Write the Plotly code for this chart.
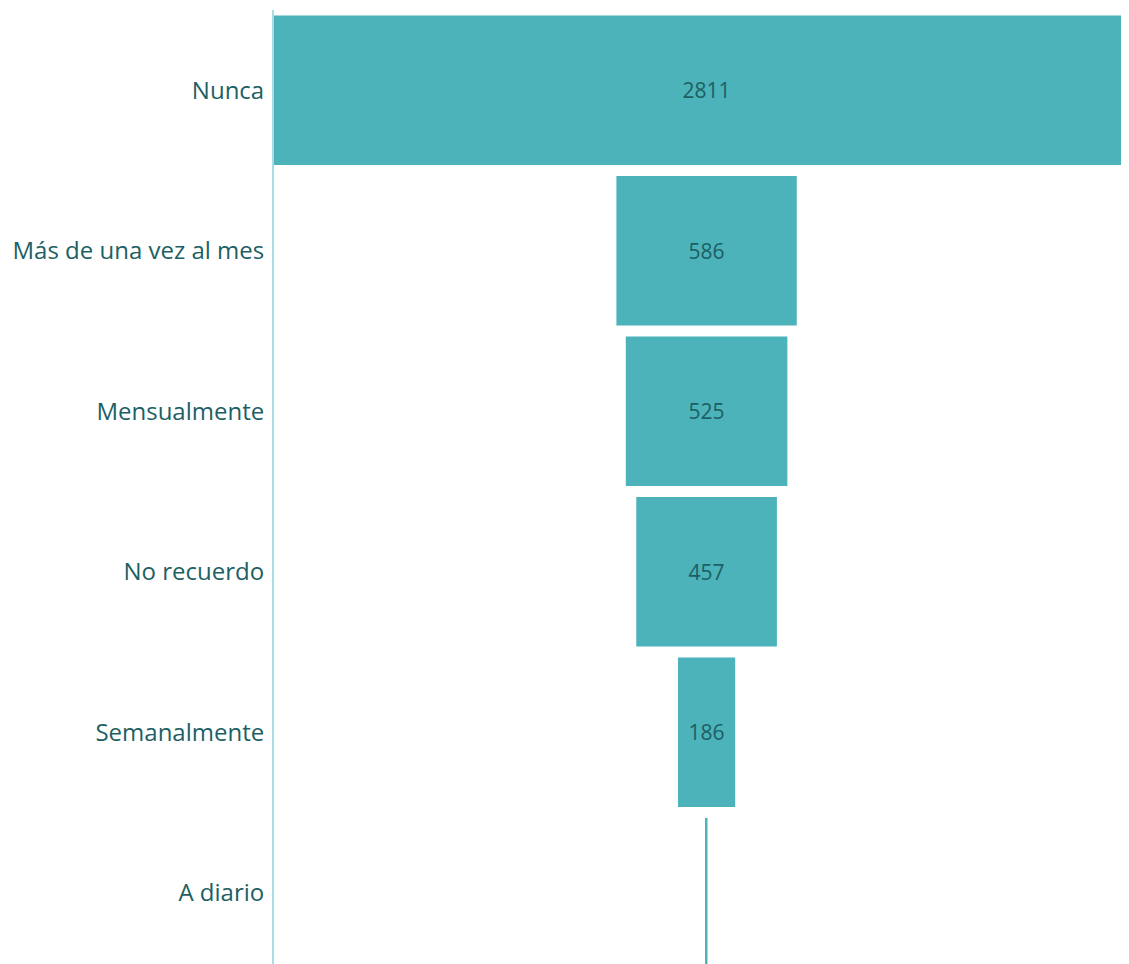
import plotly.graph_objects as go

# Frequency answers and counts
categories = ["Nunca", "Más de una vez al mes", "Mensualmente", "No recuerdo", "Semanalmente", "A diario"]
counts = [2811, 586, 525, 457, 186, 6]
text_pos = ["inside", "inside", "inside", "inside", "inside", "none"]

teal = "#4bb3b9"
dark = "#1d5f64"

fig = go.Figure(go.Funnel(
    y=categories,
    x=counts,
    marker=dict(color=teal, line=dict(width=0)),
    textinfo="value",
    textposition=text_pos,
    insidetextanchor="middle",
    textfont=dict(color=dark, size=21),
    connector=dict(visible=False),
))

fig.update_layout(
    width=1129, height=956,
    margin=dict(l=266, r=0, t=2, b=0),
    paper_bgcolor="white", plot_bgcolor="white",
    font=dict(family="Open Sans, sans-serif", color=dark, size=24),
    funnelgap=0.068,
    showlegend=False,
)
# the widest bar is cut off on the right and the last row at the bottom
half = max(counts) / 2
fig.update_xaxes(visible=False, showgrid=False, zeroline=False, range=[-half, half * 0.995])
fig.update_yaxes(showline=True, linecolor="#a9dde1", linewidth=2, showgrid=False,
                 ticks="", ticklabelstandoff=3, automargin=False,
                 autorange=False, range=[len(categories) - 0.556, -0.5],
                 tickfont=dict(size=24, color=dark))

fig.write_html("out.html")
